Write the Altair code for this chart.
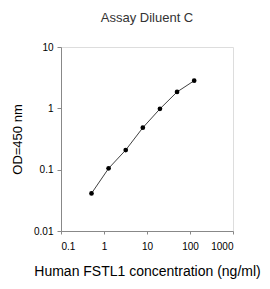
import altair as alt
import pandas as pd

conc = [0.512, 1.28, 3.2, 8, 20, 50, 125]
od = [0.041, 0.105, 0.209, 0.483, 0.98, 1.85, 2.82]
x_ticks = [0.1, 1, 10, 100, 1000]
y_ticks = [0.01, 0.1, 1, 10]

df = pd.DataFrame({"conc": conc, "od": od})

FONT = "Liberation Sans"

base = alt.Chart(df).encode(
    x=alt.X(
        "conc:Q",
        scale=alt.Scale(type="log", domain=[0.1, 1000], nice=False),
        axis=alt.Axis(
            values=x_ticks, format="~g", title="Human FSTL1 concentration (ng/ml)",
            grid=False, tickSize=3, labelPadding=7, titlePadding=13,
            titleFontWeight="normal", titleFont=FONT, titleFontSize=14,
        ),
    ),
    y=alt.Y(
        "od:Q",
        scale=alt.Scale(type="log", domain=[0.01, 10], nice=False),
        axis=alt.Axis(
            values=y_ticks, format="~g", title="OD=450 nm",
            grid=False, tickSize=4, labelPadding=4, titlePadding=9,
            titleFontWeight="normal", titleFont=FONT, titleFontSize=13,
        ),
    ),
)

line = base.mark_line(color="#404040", strokeWidth=1)
pts = base.mark_circle(color="black", size=22, opacity=1)

chart = (
    (line + pts)
    .properties(
        width=172,
        height=184,
        title=alt.TitleParams("Assay Diluent C", fontSize=13, font=FONT, color="#333333",
                              fontWeight="normal", offset=17, anchor="middle"),
        autosize="none",
        padding={"left": 53, "top": 39, "right": 29, "bottom": 50},
    )
    .configure_view(stroke="#808080", strokeWidth=1)
    .configure_axis(
        domainColor="#808080", tickColor="#808080", labelFont=FONT, titleFont=FONT,
        labelFontSize=12, titleFontSize=13, labelColor="#222222", titleColor="#222222",
        titleFontWeight="normal",
    )
    .configure(background="white")
)

chart.save("out.html", embed_options={"renderer": "svg", "actions": False})
